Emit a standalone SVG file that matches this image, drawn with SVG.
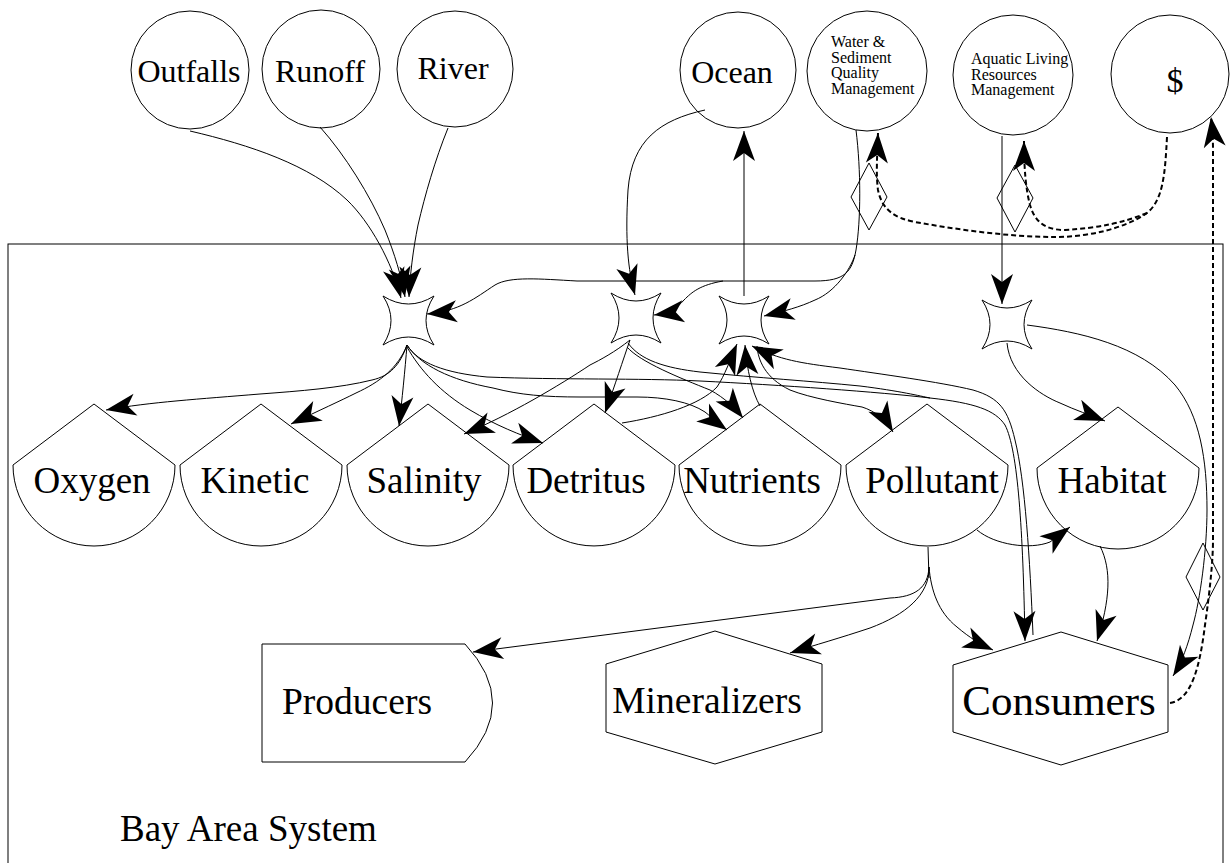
<svg xmlns="http://www.w3.org/2000/svg" width="1231" height="863" viewBox="0 0 1231 863">
<style>
.n{fill:none;stroke:#000;stroke-width:1}
.t{font-family:"Liberation Serif","Times New Roman",serif;fill:#000}
.c{fill:none;stroke:#000;stroke-width:1}
.a{marker-end:url(#ah)}
.d{fill:none;stroke:#000;stroke-width:2;stroke-dasharray:5,3}
</style>
<defs>
<marker id="ah" viewBox="-31 -12 32 24" markerWidth="32" markerHeight="24" refX="0" refY="0" orient="auto" markerUnits="userSpaceOnUse">
<path d="M0,0 L-30,-11 L-22,0 L-30,11 Z" fill="#000" stroke="none"/>
</marker>
</defs>
<rect fill="#fff" x="0" y="0" width="1231" height="863"/>
<rect class="n" x="8" y="244" width="1215" height="700"/>
<g id="outfalls"><circle class="n" cx="190" cy="70" r="59"/><text class="t" x="189" y="82" font-size="32" text-anchor="middle">Outfalls</text></g>
<g id="runoff"><circle class="n" cx="321" cy="69" r="59"/><text class="t" x="320" y="82" font-size="32" text-anchor="middle">Runoff</text></g>
<g id="river"><circle class="n" cx="455" cy="69" r="58"/><text class="t" x="453" y="79" font-size="32" text-anchor="middle">River</text></g>
<g id="ocean"><circle class="n" cx="738" cy="70" r="58"/><text class="t" x="732" y="83" font-size="32" text-anchor="middle">Ocean</text></g>
<g id="water"><circle class="n" cx="867" cy="71" r="60"/><text class="t" font-size="16"><tspan x="831" y="47">Water &amp;</tspan><tspan x="831" y="62.5">Sediment</tspan><tspan x="831" y="78">Quality</tspan><tspan x="831" y="94">Management</tspan></text></g>
<g id="aquatic"><circle class="n" cx="1013" cy="75" r="60"/><text class="t" font-size="16"><tspan x="971" y="64">Aquatic Living</tspan><tspan x="971" y="80">Resources</tspan><tspan x="971" y="95">Management</tspan></text></g>
<g id="money"><circle class="n" cx="1170" cy="74" r="59"/><text class="t" x="1175" y="92" font-size="34" text-anchor="middle">$</text></g>
<g id="star1"><path class="n" d="M383,296 Q408.5,312 434,296 Q418,320.5 434,345 Q408.5,329 383,345 Q399,320.5 383,296 Z"/></g>
<g id="star2"><path class="n" d="M611,293 Q636,309 661,293 Q645,318 661,343 Q636,327 611,343 Q627,318 611,293 Z"/></g>
<g id="star3"><path class="n" d="M719,296 Q744,312 769,296 Q753,320 769,344 Q744,328 719,344 Q735,320 719,296 Z"/></g>
<g id="star4"><path class="n" d="M982,300 Q1007,316 1032,300 Q1016,324.5 1032,349 Q1007,333 982,349 Q998,324.5 982,300 Z"/></g>
<g id="oxygen"><path class="n" d="M94,404 L175,465 A81,81 0 0 1 13,465 Z"/><text class="t" x="92" y="493" font-size="37" text-anchor="middle">Oxygen</text></g>
<g id="kinetic"><path class="n" d="M261,404 L342,465 A81,81 0 0 1 180,465 Z"/><text class="t" x="255" y="493" font-size="37" text-anchor="middle">Kinetic</text></g>
<g id="salinity"><path class="n" d="M428,404 L509,465 A81,81 0 0 1 347,465 Z"/><text class="t" x="424" y="493" font-size="37" text-anchor="middle">Salinity</text></g>
<g id="detritus"><path class="n" d="M594,404 L675,465 A81,81 0 0 1 513,465 Z"/><text class="t" x="586" y="493" font-size="37" text-anchor="middle">Detritus</text></g>
<g id="nutrients"><path class="n" d="M760,404 L841,465 A81,81 0 0 1 679,465 Z"/><text class="t" x="752" y="493" font-size="37" text-anchor="middle">Nutrients</text></g>
<g id="pollutant"><path class="n" d="M927,404 L1008,465 A81,81 0 0 1 846,465 Z"/><text class="t" x="932" y="493" font-size="37" text-anchor="middle">Pollutant</text></g>
<g id="habitat"><path class="n" d="M1118,407 L1199,468 A81,81 0 0 1 1037,468 Z"/><text class="t" x="1112" y="493" font-size="37" text-anchor="middle">Habitat</text></g>
<g id="producers"><path class="n" d="M262,644 L465,644 Q520,703 465,762 L262,762 Z"/><text class="t" x="357" y="714" font-size="37.5" text-anchor="middle">Producers</text></g>
<g id="mineralizers"><path class="n" d="M715,631 L822,664 L822,732 L715,764 L606,732 L606,664 Z"/><text class="t" x="707" y="713" font-size="37.5" text-anchor="middle">Mineralizers</text></g>
<g id="consumers"><path class="n" d="M1061,632 L1168,665 L1168,732 L1061,765 L953,732 L953,665 Z"/><text class="t" x="1059" y="715" font-size="43" text-anchor="middle">Consumers</text></g>
<g id="diamonds">
<path class="n" d="M869,163 L887,197 L869,230 L851,197 Z"/>
<path class="n" d="M1015,165 L1033,198 L1015,232 L997,198 Z"/>
<path class="n" d="M1203,543 L1220,577 L1203,610 L1186,577 Z"/>
</g>
<text class="t" x="120" y="841" font-size="37">Bay Area System</text>
<g id="connectors">
<path class="c a" d="M190,131 C250,145 310,165 347,200 C370,222 392,262 401,298"/>
<path class="c a" d="M320,127 C345,155 370,195 385,230 C395,255 401,275 405,297"/>
<path class="c a" d="M448,128 C435,160 425,195 418,225 C413,250 410,275 409,297"/>
<path class="c a" d="M856,130 C861,170 861,220 856,250 C852,272 845,281 815,281 L577,281 C540,279 510,276 495,285 C475,298 460,311 427,314"/>
<path class="c a" d="M723,281 C700,285 692,292 684,300 C677,308 670,313 654,315"/>
<path class="c a" d="M855,255 C850,270 835,292 815,300 C800,307 785,311 764,316"/>
<path class="c a" d="M705,110 C660,120 632,140 628,190 C625,240 628,270 635,295"/>
<path class="c a" d="M744,296 L744,131"/>
<path class="c a" d="M1002,136 L1002,304"/>
<path class="c a" d="M407,345 C400,365 390,376 372,380 C340,388 300,391 260,394 C200,399 150,402 106,410"/>
<path class="c a" d="M407,345 C398,368 380,382 356,393 C340,401 320,410 291,424"/>
<path class="c a" d="M407,345 C405,370 402,400 399,426"/>
<path class="c a" d="M407,347 C420,370 440,392 470,410 C495,425 520,435 543,443"/>
<path class="c a" d="M407,345 C420,365 450,380 493,388 C520,395 545,397 580,397 L637,397 C665,397 690,402 705,412 C715,420 720,425 727,430"/>
<path class="c a" d="M407,345 C418,363 445,373 487,377 C560,380 640,378 700,381 C780,385 880,392 930,398 C975,403 995,410 1005,425 C1018,450 1023,530 1025,641"/>
<path class="c" d="M628,343 C640,360 665,368 700,372 C760,378 810,381 860,386 C900,391 920,396 930,398"/>
<path class="c a" d="M630,340 C615,352 600,360 590,365 C560,385 510,415 464,434"/>
<path class="c a" d="M630,340 C623,360 615,385 605,413"/>
<path class="c a" d="M627,347 C640,362 680,378 710,390 C725,398 735,408 743,418"/>
<path class="c a" d="M622,423 C660,417 700,405 717,387 C725,375 730,360 737,344"/>
<path class="c a" d="M760,406 C752,392 747,370 745,345"/>
<path class="c a" d="M1033,635 C1030,560 1025,480 1015,440 C1008,410 1000,398 973,390 C940,382 880,374 840,368 C800,363 780,360 752,346"/>
<path class="c a" d="M757,346 C758,360 765,378 790,390 C810,398 845,404 862,407 C875,411 886,420 893,432"/>
<path class="c a" d="M1007,343 C1010,375 1040,395 1060,403 C1075,410 1090,415 1105,421"/>
<path class="c a" d="M1027,325 C1080,332 1140,345 1175,385 C1200,415 1207,460 1207,510 C1207,550 1200,600 1193,625 C1188,645 1182,662 1173,676"/>
<path class="c a" d="M1100,546 C1112,570 1110,600 1097,641"/>
<path class="c a" d="M977,530 C995,545 1030,550 1050,542 L1070,527"/>
<path class="c" d="M928,547 L929,578"/>
<path class="c a" d="M929,567 C928,588 915,597 890,598 L473,652"/>
<path class="c a" d="M929,567 C930,595 905,615 870,628 C840,638 815,645 790,653"/>
<path class="c a" d="M929,567 C931,590 938,612 957,627 C970,638 980,644 993,650"/>
<path class="d a" d="M1167,137 C1165,175 1163,200 1147,213 C1125,228 1090,237 1055,237 C1010,237 960,230 915,222 C895,218 882,210 878,190 C876,175 877,160 878,133"/>
<path class="d a" d="M1147,213 C1125,222 1100,228 1065,230 C1045,230 1035,222 1030,205 C1026,190 1024,170 1024,141"/>
<path class="d a" d="M1170,703 C1192,700 1200,665 1205,625 C1210,590 1213,560 1213,540 L1213,150 C1213,135 1212,125 1211,117"/>
</g>
</svg>
